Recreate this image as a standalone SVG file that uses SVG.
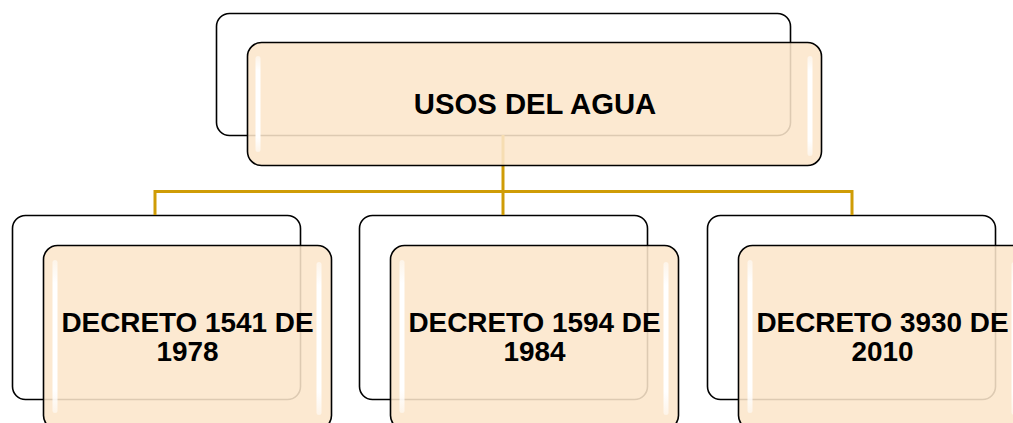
<svg xmlns="http://www.w3.org/2000/svg" width="1013" height="423" viewBox="0 0 1013 423">
<defs>
<linearGradient id="hl" x1="0" y1="0" x2="0" y2="1">
<stop offset="0" stop-color="#ffffff" stop-opacity="0.5"/>
<stop offset="0.15" stop-color="#ffffff" stop-opacity="1"/>
<stop offset="0.85" stop-color="#ffffff" stop-opacity="1"/>
<stop offset="1" stop-color="#ffffff" stop-opacity="0.5"/>
</linearGradient>
</defs>
<style>
.back{fill:#ffffff;stroke:#000000;stroke-width:1.6}
.front{fill:#fce6cb;fill-opacity:0.88;stroke:#000000;stroke-width:1.6}
.hl{fill:url(#hl)}
.conn{fill:none;stroke:#cf9c06;stroke-width:3}
.lbl{font-family:"Liberation Sans",Arial,sans-serif;font-weight:bold;fill:#000000;text-anchor:middle}
</style>
<rect width="1013" height="423" fill="#ffffff"/>
<g id="back-nodes">
<rect class="back" x="216.5" y="13.5" width="574" height="122" rx="13"/>
<rect class="back" x="12.5" y="215.5" width="288" height="184" rx="13"/>
<rect class="back" x="359.5" y="215.5" width="288" height="184" rx="13"/>
<rect class="back" x="707.5" y="215.5" width="288" height="184" rx="13"/>
</g>
<g id="connectors">
<path class="conn" d="M503,135 V191.5"/>
<path class="conn" d="M155,215 V191.5 H852 V215"/>
<path class="conn" d="M503,191.5 V215"/>
</g>
<g id="node-root">
<rect class="front" x="247.5" y="42.5" width="574" height="123" rx="14"/>
<rect class="hl" x="255.5" y="56" width="5" height="96" rx="2.5"/>
<rect class="hl" x="807.5" y="56" width="5" height="100" rx="2.5"/>
<text class="lbl" x="535" y="113.5" font-size="29.3">USOS DEL AGUA</text>
</g>
<g id="node-1541">
<rect class="front" x="43.5" y="245.5" width="288" height="184" rx="14"/>
<rect class="hl" x="52.5" y="260" width="5" height="153" rx="2.5"/>
<rect class="hl" x="316.5" y="262" width="5" height="153" rx="2.5"/>
<text class="lbl" x="187.5" y="331.5" font-size="27.9">DECRETO 1541 DE</text>
<text class="lbl" x="187.5" y="361" font-size="27.9">1978</text>
</g>
<g id="node-1594">
<rect class="front" x="390.5" y="245.5" width="288" height="184" rx="14"/>
<rect class="hl" x="399.5" y="260" width="5" height="153" rx="2.5"/>
<rect class="hl" x="663.5" y="262" width="5" height="153" rx="2.5"/>
<text class="lbl" x="534.5" y="331.5" font-size="27.9">DECRETO 1594 DE</text>
<text class="lbl" x="534.5" y="361" font-size="27.9">1984</text>
</g>
<g id="node-3930">
<rect class="front" x="738.5" y="245.5" width="288" height="184" rx="14"/>
<rect class="hl" x="747.5" y="260" width="5" height="153" rx="2.5"/>
<rect class="hl" x="1011.5" y="262" width="5" height="153" rx="2.5"/>
<text class="lbl" x="882.5" y="331.5" font-size="27.9">DECRETO 3930 DE</text>
<text class="lbl" x="882.5" y="361" font-size="27.9">2010</text>
</g>
</svg>
